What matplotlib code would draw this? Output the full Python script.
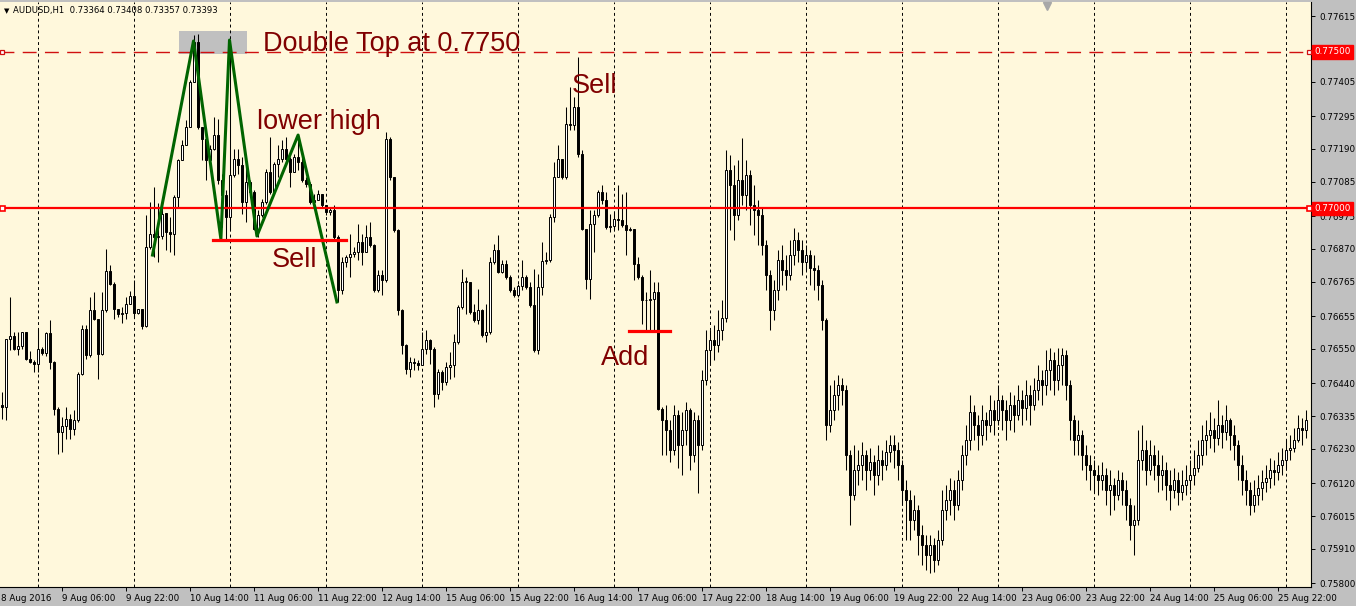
import numpy as np
import matplotlib.pyplot as plt
from matplotlib.patches import Rectangle

plt.rcParams['font.family'] = ['DejaVu Sans']

# AUDUSD H1, bars from 8 Aug 2016 15:00 on (open of each bar = previous close)
first_open = 0.76370
close = [0.76365, 0.76580, 0.76591, 0.76551, 0.76559, 0.76603, 0.76519, 0.76509, 0.76503, 0.76548,
         0.76537, 0.76601, 0.76509, 0.76359, 0.76285, 0.76303, 0.76324, 0.76292, 0.76322, 0.76471,
         0.76612, 0.76530, 0.76674, 0.76644, 0.76535, 0.76674, 0.76799, 0.76759, 0.76679, 0.76663,
         0.76665, 0.76693, 0.76719, 0.76665, 0.76676, 0.76623, 0.76875, 0.76919, 0.76909, 0.76911,
         0.76983, 0.76925, 0.76917, 0.77037, 0.77154, 0.77202, 0.77261, 0.77405, 0.77533, 0.77261,
         0.77223, 0.77154, 0.77191, 0.77234, 0.77090, 0.77042, 0.76973, 0.77106, 0.77159, 0.77138,
         0.77021, 0.77085, 0.77053, 0.76935, 0.76978, 0.77021, 0.77117, 0.77053, 0.77143, 0.77159,
         0.77191, 0.77159, 0.77117, 0.77165, 0.77149, 0.77090, 0.77079, 0.77021, 0.77026, 0.77045,
         0.77010, 0.76989, 0.76994, 0.76909, 0.76738, 0.76829, 0.76845, 0.76855, 0.76861, 0.76893,
         0.76861, 0.76909, 0.76882, 0.76738, 0.76786, 0.76770, 0.77223, 0.77101, 0.76930, 0.76674,
         0.76562, 0.76487, 0.76509, 0.76506, 0.76498, 0.76551, 0.76578, 0.76551, 0.76407, 0.76477,
         0.76445, 0.76493, 0.76498, 0.76573, 0.76685, 0.76765, 0.76765, 0.76669, 0.76642, 0.76674,
         0.76594, 0.76605, 0.76829, 0.76866, 0.76797, 0.76823, 0.76781, 0.76738, 0.76722, 0.76751,
         0.76781, 0.76749, 0.76690, 0.76546, 0.76749, 0.76832, 0.76834, 0.76971, 0.77101, 0.77156,
         0.77101, 0.77271, 0.77266, 0.77323, 0.77175, 0.76935, 0.76775, 0.76951, 0.76978, 0.77053,
         0.77026, 0.76941, 0.76943, 0.76964, 0.76962, 0.76946, 0.76930, 0.76932, 0.76823, 0.76781,
         0.76706, 0.76706, 0.76710, 0.76731, 0.76359, 0.76322, 0.76290, 0.76226, 0.76338, 0.76242,
         0.76290, 0.76354, 0.76210, 0.76322, 0.76242, 0.76450, 0.76546, 0.76578, 0.76562, 0.76610,
         0.76648, 0.77122, 0.77074, 0.76978, 0.77090, 0.77042, 0.77106, 0.77010, 0.76994, 0.76978,
         0.76882, 0.76786, 0.76674, 0.76738, 0.76834, 0.76802, 0.76786, 0.76850, 0.76898, 0.76866,
         0.76828, 0.76850, 0.76808, 0.76802, 0.76754, 0.76642, 0.76306, 0.76354, 0.76402, 0.76434,
         0.76418, 0.76210, 0.76082, 0.76162, 0.76178, 0.76210, 0.76162, 0.76188, 0.76146, 0.76194,
         0.76178, 0.76220, 0.76242, 0.76226, 0.76178, 0.76098, 0.76066, 0.76002, 0.76034, 0.75954,
         0.75922, 0.75890, 0.75922, 0.75874, 0.75938, 0.76034, 0.76066, 0.76098, 0.76050, 0.76130,
         0.76210, 0.76258, 0.76348, 0.76306, 0.76274, 0.76322, 0.76306, 0.76354, 0.76322, 0.76386,
         0.76354, 0.76322, 0.76370, 0.76338, 0.76386, 0.76360, 0.76402, 0.76370, 0.76418, 0.76450,
         0.76434, 0.76482, 0.76514, 0.76450, 0.76498, 0.76530, 0.76434, 0.76322, 0.76258, 0.76274,
         0.76210, 0.76178, 0.76162, 0.76146, 0.76130, 0.76146, 0.76098, 0.76114, 0.76082, 0.76130,
         0.76098, 0.76050, 0.75986, 0.76002, 0.76194, 0.76226, 0.76162, 0.76210, 0.76178, 0.76146,
         0.76162, 0.76114, 0.76098, 0.76130, 0.76092, 0.76114, 0.76130, 0.76146, 0.76168, 0.76210,
         0.76258, 0.76274, 0.76290, 0.76264, 0.76306, 0.76284, 0.76322, 0.76274, 0.76242, 0.76178,
         0.76130, 0.76098, 0.76050, 0.76082, 0.76104, 0.76124, 0.76136, 0.76162, 0.76156, 0.76178,
         0.76194, 0.76226, 0.76232, 0.76258, 0.76296, 0.76290, 0.76322]
high = [0.76413, 0.76583, 0.76717, 0.76605, 0.76605, 0.76605, 0.76605, 0.76544, 0.76514, 0.76615,
        0.76557, 0.76605, 0.76642, 0.76511, 0.76365, 0.76333, 0.76365, 0.76343, 0.76354, 0.76477,
        0.76626, 0.76626, 0.76717, 0.76733, 0.76647, 0.76733, 0.76868, 0.76818, 0.76765, 0.76679,
        0.76685, 0.76717, 0.76736, 0.76770, 0.76679, 0.76679, 0.76978, 0.77021, 0.77069, 0.77016,
        0.77031, 0.76973, 0.76973, 0.77042, 0.77159, 0.77218, 0.77282, 0.77410, 0.77554, 0.77557,
        0.77261, 0.77223, 0.77202, 0.77293, 0.77287, 0.77111, 0.77058, 0.77538, 0.77191, 0.77191,
        0.77165, 0.77133, 0.77090, 0.77058, 0.76994, 0.77031, 0.77127, 0.77229, 0.77149, 0.77202,
        0.77218, 0.77229, 0.77165, 0.77175, 0.77229, 0.77175, 0.77101, 0.77085, 0.77047, 0.77058,
        0.77047, 0.77000, 0.77005, 0.77010, 0.76914, 0.76845, 0.76850, 0.76919, 0.76877, 0.76951,
        0.76919, 0.76946, 0.76957, 0.76887, 0.76802, 0.76802, 0.77245, 0.77229, 0.77101, 0.76935,
        0.76679, 0.76567, 0.76525, 0.76520, 0.76514, 0.76605, 0.76610, 0.76583, 0.76557, 0.76487,
        0.76482, 0.76509, 0.76541, 0.76599, 0.76690, 0.76807, 0.76781, 0.76765, 0.76695, 0.76743,
        0.76679, 0.76695, 0.76845, 0.76887, 0.76914, 0.76834, 0.76834, 0.76786, 0.76749, 0.76759,
        0.76834, 0.76786, 0.76765, 0.76807, 0.76791, 0.76893, 0.76861, 0.76983, 0.77149, 0.77202,
        0.77159, 0.77325, 0.77389, 0.77357, 0.77484, 0.77186, 0.76935, 0.76994, 0.76994, 0.77058,
        0.77074, 0.77053, 0.76983, 0.76989, 0.77074, 0.77047, 0.77053, 0.76941, 0.76935, 0.76845,
        0.76786, 0.76733, 0.76802, 0.76765, 0.76765, 0.76365, 0.76370, 0.76322, 0.76370, 0.76354,
        0.76348, 0.76380, 0.76360, 0.76348, 0.76338, 0.76482, 0.76610, 0.76610, 0.76626, 0.76674,
        0.76706, 0.77186, 0.77170, 0.77138, 0.77154, 0.77224, 0.77154, 0.77122, 0.77074, 0.77026,
        0.77000, 0.76898, 0.76802, 0.76770, 0.76866, 0.76882, 0.76850, 0.76898, 0.76936, 0.76924,
        0.76898, 0.76882, 0.76866, 0.76850, 0.76818, 0.76770, 0.76648, 0.76434, 0.76450, 0.76466,
        0.76456, 0.76434, 0.76226, 0.76242, 0.76226, 0.76252, 0.76226, 0.76232, 0.76210, 0.76242,
        0.76226, 0.76258, 0.76274, 0.76274, 0.76252, 0.76194, 0.76130, 0.76098, 0.76082, 0.76050,
        0.75986, 0.75954, 0.75954, 0.75944, 0.75970, 0.76098, 0.76114, 0.76136, 0.76130, 0.76162,
        0.76242, 0.76306, 0.76402, 0.76370, 0.76338, 0.76370, 0.76348, 0.76402, 0.76386, 0.76434,
        0.76402, 0.76386, 0.76412, 0.76402, 0.76434, 0.76418, 0.76450, 0.76434, 0.76456, 0.76498,
        0.76482, 0.76546, 0.76552, 0.76540, 0.76552, 0.76552, 0.76546, 0.76450, 0.76338, 0.76322,
        0.76290, 0.76242, 0.76210, 0.76194, 0.76178, 0.76188, 0.76168, 0.76162, 0.76136, 0.76162,
        0.76156, 0.76130, 0.76072, 0.76050, 0.76290, 0.76306, 0.76258, 0.76258, 0.76242, 0.76226,
        0.76210, 0.76188, 0.76162, 0.76168, 0.76156, 0.76162, 0.76178, 0.76194, 0.76226, 0.76258,
        0.76306, 0.76322, 0.76348, 0.76328, 0.76386, 0.76338, 0.76370, 0.76328, 0.76306, 0.76258,
        0.76210, 0.76162, 0.76124, 0.76130, 0.76146, 0.76162, 0.76178, 0.76200, 0.76194, 0.76220,
        0.76232, 0.76258, 0.76274, 0.76296, 0.76338, 0.76328, 0.76354]
low = [0.76327, 0.76322, 0.76546, 0.76546, 0.76530, 0.76551, 0.76514, 0.76505, 0.76477, 0.76477,
       0.76530, 0.76527, 0.76487, 0.76338, 0.76215, 0.76221, 0.76263, 0.76263, 0.76274, 0.76317,
       0.76466, 0.76519, 0.76525, 0.76642, 0.76455, 0.76530, 0.76669, 0.76754, 0.76647, 0.76653,
       0.76633, 0.76647, 0.76693, 0.76653, 0.76661, 0.76615, 0.76621, 0.76871, 0.76845, 0.76829,
       0.76903, 0.76866, 0.76861, 0.76850, 0.77005, 0.77154, 0.77202, 0.77261, 0.77405, 0.77255,
       0.77154, 0.77090, 0.77143, 0.77186, 0.77079, 0.76941, 0.76903, 0.76930, 0.77101, 0.77111,
       0.76983, 0.76957, 0.77037, 0.76930, 0.76909, 0.76973, 0.77015, 0.77047, 0.77047, 0.77101,
       0.77149, 0.77143, 0.77069, 0.77117, 0.77122, 0.77085, 0.77069, 0.77015, 0.77005, 0.77037,
       0.77005, 0.76978, 0.76978, 0.76903, 0.76701, 0.76727, 0.76813, 0.76781, 0.76845, 0.76834,
       0.76818, 0.76866, 0.76877, 0.76733, 0.76733, 0.76722, 0.76765, 0.77090, 0.76925, 0.76658,
       0.76535, 0.76471, 0.76461, 0.76482, 0.76482, 0.76498, 0.76535, 0.76503, 0.76365, 0.76391,
       0.76418, 0.76434, 0.76455, 0.76461, 0.76567, 0.76679, 0.76663, 0.76663, 0.76637, 0.76631,
       0.76589, 0.76573, 0.76599, 0.76823, 0.76792, 0.76792, 0.76775, 0.76733, 0.76717, 0.76717,
       0.76738, 0.76743, 0.76685, 0.76541, 0.76535, 0.76722, 0.76823, 0.76829, 0.76957, 0.77101,
       0.77095, 0.77095, 0.77250, 0.77250, 0.77165, 0.76930, 0.76743, 0.76711, 0.76861, 0.76973,
       0.77015, 0.76935, 0.76925, 0.76935, 0.76930, 0.76941, 0.76850, 0.76928, 0.76770, 0.76775,
       0.76631, 0.76610, 0.76610, 0.76605, 0.76354, 0.76210, 0.76210, 0.76188, 0.76210, 0.76168,
       0.76146, 0.76242, 0.76162, 0.76188, 0.76088, 0.76226, 0.76434, 0.76498, 0.76514, 0.76540,
       0.76578, 0.76636, 0.76930, 0.76898, 0.76962, 0.77010, 0.76994, 0.76946, 0.76914, 0.76882,
       0.76850, 0.76738, 0.76610, 0.76642, 0.76706, 0.76754, 0.76738, 0.76770, 0.76818, 0.76828,
       0.76786, 0.76802, 0.76754, 0.76738, 0.76706, 0.76610, 0.76258, 0.76284, 0.76322, 0.76354,
       0.76370, 0.76162, 0.75986, 0.76066, 0.76114, 0.76130, 0.76098, 0.76130, 0.76082, 0.76114,
       0.76130, 0.76162, 0.76188, 0.76168, 0.76130, 0.76050, 0.75938, 0.75938, 0.75970, 0.75890,
       0.75858, 0.75842, 0.75832, 0.75836, 0.75858, 0.75922, 0.76002, 0.76018, 0.76002, 0.76034,
       0.76098, 0.76178, 0.76226, 0.76258, 0.76226, 0.76242, 0.76258, 0.76284, 0.76274, 0.76306,
       0.76290, 0.76258, 0.76290, 0.76284, 0.76322, 0.76306, 0.76322, 0.76306, 0.76354, 0.76386,
       0.76370, 0.76402, 0.76418, 0.76402, 0.76418, 0.76434, 0.76386, 0.76258, 0.76210, 0.76210,
       0.76162, 0.76130, 0.76098, 0.76092, 0.76082, 0.76098, 0.76050, 0.76018, 0.76034, 0.76066,
       0.76050, 0.76002, 0.75938, 0.75890, 0.75986, 0.76162, 0.76114, 0.76146, 0.76130, 0.76092,
       0.76098, 0.76066, 0.76034, 0.76072, 0.76050, 0.76066, 0.76082, 0.76098, 0.76114, 0.76156,
       0.76178, 0.76210, 0.76232, 0.76220, 0.76242, 0.76232, 0.76258, 0.76226, 0.76194, 0.76130,
       0.76082, 0.76050, 0.76018, 0.76028, 0.76050, 0.76066, 0.76092, 0.76104, 0.76114, 0.76130,
       0.76146, 0.76168, 0.76194, 0.76220, 0.76252, 0.76242, 0.76264]

first_label = '8 Aug 2016'
time_ticks = [15, 31, 47, 63, 79, 95, 111, 127, 143, 159, 175, 191, 207, 223, 239, 255, 271, 287, 303, 319]
time_labels = ['9 Aug 06:00', '9 Aug 22:00', '10 Aug 14:00', '11 Aug 06:00', '11 Aug 22:00',
               '12 Aug 14:00', '15 Aug 06:00', '15 Aug 22:00', '16 Aug 14:00', '17 Aug 06:00', '17 Aug 22:00',
               '18 Aug 14:00', '19 Aug 06:00', '19 Aug 22:00', '22 Aug 14:00', '23 Aug 06:00', '23 Aug 22:00',
               '24 Aug 14:00', '25 Aug 06:00', '25 Aug 22:00']
day_starts = [9, 33, 57, 81, 105, 129, 153, 177, 201, 225, 249, 273, 297, 321]
price_ticks = [0.77615, 0.77405, 0.77295, 0.77190, 0.77085, 0.76975, 0.76870, 0.76765, 0.76655,
               0.76550, 0.76440, 0.76335, 0.76230, 0.76120, 0.76015, 0.75910, 0.75800]

# drawn objects
double_top = 0.77500
support = 0.77000
zigzag_x = [37.7, 47.95, 54.8, 56.95, 63.8, 74.1, 83.8]
zigzag_y = [0.76850, 0.77535, 0.76901, 0.77538, 0.76911, 0.77234, 0.76700]
sell_line = ([52.8, 86.1], 0.76898)
add_line = ([156.8, 167.1], 0.76607)
notes = [('Double Top at 0.7750', 65.3, 0.77503), ('lower high', 63.8, 0.77253),
         ('Sell', 67.6, 0.76812), ('Sell', 142.6, 0.77369), ('Add', 149.8, 0.76498)]

bg = '#fff8dc'
frame = '#c0c0c0'
red = '#ff0000'
note_red = '#800000'

fig = plt.figure(figsize=(13.56, 6.06), dpi=100, facecolor=frame)
ax = fig.add_axes([0, 19 / 606, 1311 / 1356, 585 / 606])
ax.set_facecolor(bg)

# candles
opens = [first_open] + close[:-1]
n = len(close)
xs = np.arange(n)
o = np.array(opens)
c = np.array(close)
h = np.maximum(np.array(high), np.maximum(o, c))
l = np.minimum(np.array(low), np.minimum(o, c))
ax.vlines(xs, l, h, color='black', lw=0.75, zorder=3)
up = c >= o
bottoms = np.minimum(o, c)
heights = np.maximum(np.abs(c - o), 0.000005)
ax.bar(xs[up], heights[up], bottom=bottoms[up], width=0.5, facecolor='white',
       edgecolor='black', lw=0.7, zorder=3.2)
ax.bar(xs[~up], heights[~up], bottom=bottoms[~up], width=0.5, facecolor='black',
       edgecolor='black', lw=0.7, zorder=3.2)

# day grid
for d in day_starts:
    ax.axvline(d, color='black', lw=0.7, ls=(0, (3, 3)), zorder=1.5)

# highlight box around the top
ax.add_patch(Rectangle((44.4, 0.77493), 17.0, 0.00074, facecolor='#c0c0c0', edgecolor='none', zorder=1))

# horizontal levels
ax.axhline(double_top, color='#d01010', lw=1.0, ls=(0, (10, 6)), zorder=2)
ax.axhline(support, color=red, lw=1.6, zorder=4)
ax.plot([0.1, 326.8], [double_top, double_top], 's', ms=3.2, mfc='white', mec='#d01010', mew=0.9, zorder=4)
ax.plot([0.1, 326.8], [support, support], 's', ms=3.6, mfc='white', mec=red, mew=1.2, zorder=4)

# pattern lines
ax.plot(zigzag_x, zigzag_y, color='#006400', lw=2.2, zorder=4.5)
ax.plot(sell_line[0], [sell_line[1]] * 2, color=red, lw=2.3, zorder=4.5)
ax.plot(add_line[0], [add_line[1]] * 2, color=red, lw=2.3, zorder=4.5)

for txt, bx, py in notes:
    ax.text(bx, py, txt, fontsize=19.5, color=note_red, family='Liberation Sans',
            ha='left', va='baseline', zorder=5)

# axes styling
for s in ['left', 'top']:
    ax.spines[s].set_visible(False)
for s in ['right', 'bottom']:
    ax.spines[s].set_color('black')
    ax.spines[s].set_linewidth(0.8)
ax.yaxis.tick_right()
ax.set_yticks(price_ticks)
ax.set_yticklabels(['%.5f' % p for p in price_ticks])
ax.tick_params(axis='y', direction='out', length=3, width=0.7, pad=3, labelsize=6.3)
ax.set_xticks(time_ticks)
ax.set_xticklabels(time_labels, ha='left')
ax.tick_params(axis='x', direction='out', length=3, width=0.7, pad=2, labelsize=6.3)

# limits last, so the tick calls cannot widen them
ax.set_xlim(-0.425, 327.325)
ax.set_ylim(0.757878, 0.776598)

# first date label sits at the very left edge
ax.annotate(first_label, xy=(0, 0), xycoords='axes fraction',
            xytext=(0.5, -5), textcoords='offset points', ha='left', va='top',
            fontsize=6.3, annotation_clip=False)

for lvl in [double_top, support]:
    ax.annotate('%.5f' % lvl, xy=(1, lvl), xycoords=('axes fraction', 'data'),
                xytext=(2.5, 0), textcoords='offset points', ha='left', va='center',
                fontsize=6.3, color='white', annotation_clip=False, zorder=6,
                bbox=dict(boxstyle='square,pad=0.25', facecolor=red, edgecolor=red))

# header and chart-shift marker
fig.text(4 / 1356, 1 - 11 / 606, '\u25bc', fontsize=5, va='center', ha='left')
fig.text(13 / 1356, 1 - 11 / 606, 'AUDUSD,H1  0.73364 0.73408 0.73357 0.73393',
         fontsize=6.1, va='center', ha='left')
ax.plot([1047 / 1311], [1 - 4 / 585], marker='v', ms=6, color='#a8a8a8',
        transform=ax.transAxes, clip_on=False, zorder=6)

fig.savefig('out.png', dpi=100, facecolor=frame)
